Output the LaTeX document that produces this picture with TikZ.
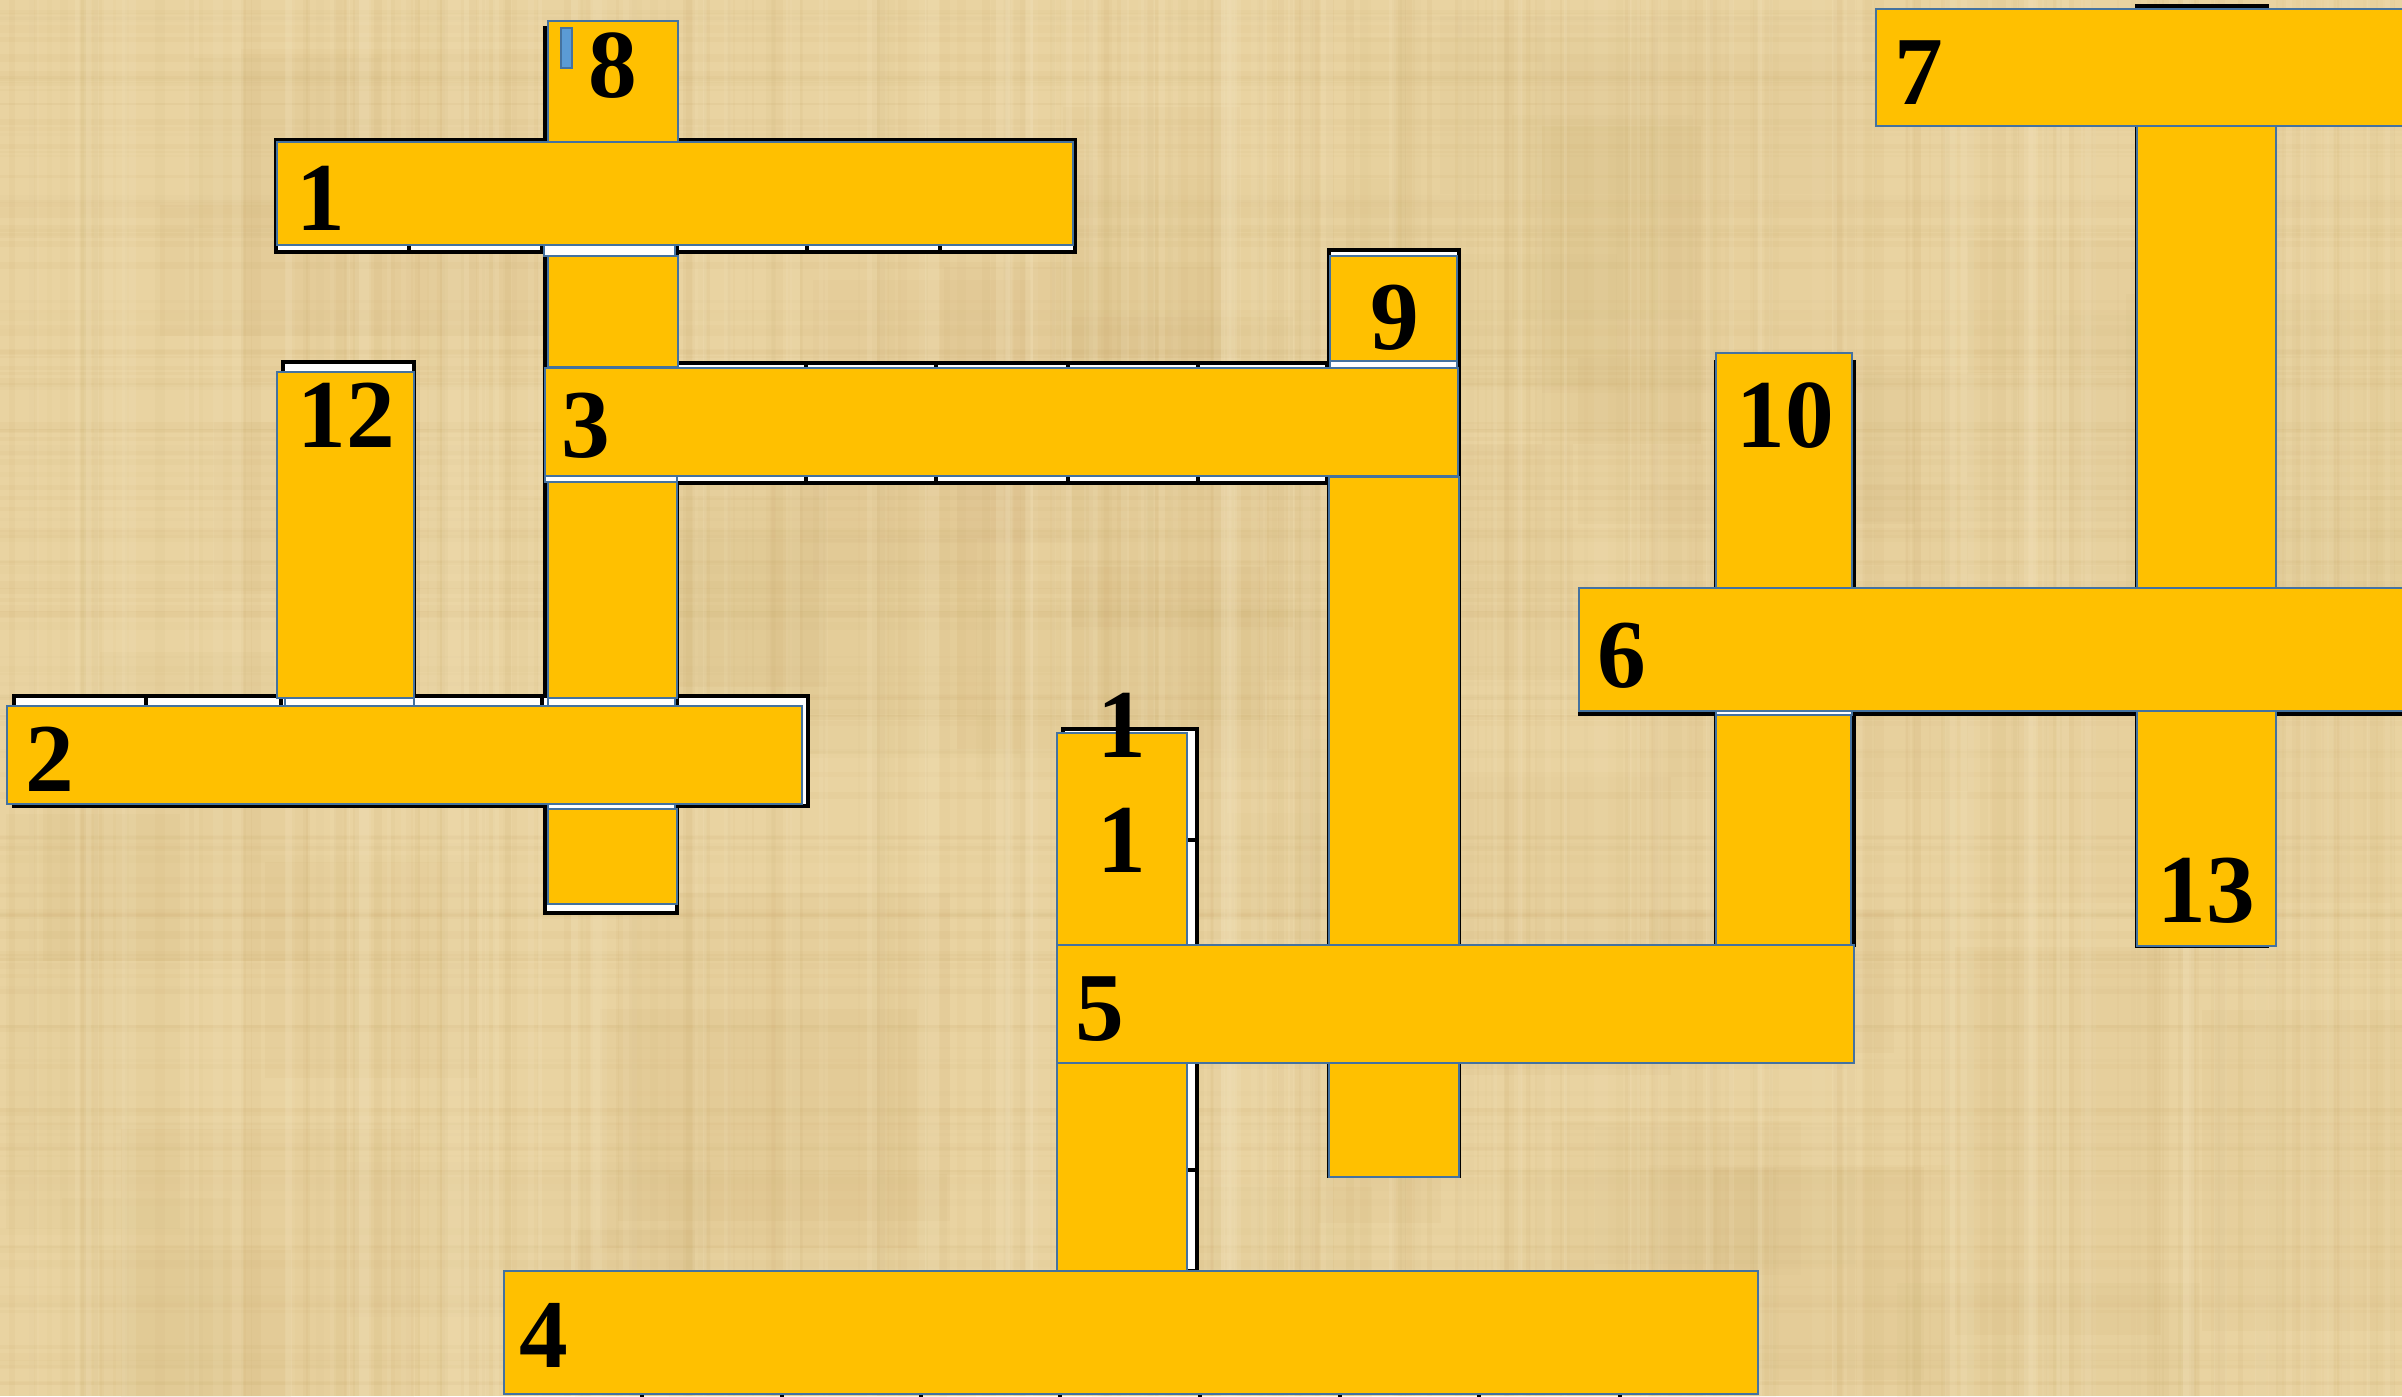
\documentclass[tikz,border=0pt]{standalone}
\usepackage{fontspec}
\setmainfont{Liberation Serif}
\definecolor{papyrus}{HTML}{E9D3A1}
\definecolor{papdark}{HTML}{C4A463}
\definecolor{paplight}{HTML}{F5E7C3}
\definecolor{barfill}{HTML}{FFC000}
\definecolor{barline}{HTML}{4472A0}
\definecolor{cursorblue}{HTML}{5B9BD5}
\tikzset{
  bar/.style={fill=barfill, draw=barline, line width=0.6pt},
  gridbox/.style={fill=white, draw=black, line width=0.9pt},
  gridline/.style={draw=black, line width=0.9pt},
  gapcell/.style={fill=white, draw=barline, line width=0.6pt},
  num/.style={font=\fontsize{27.7}{30}\selectfont\bfseries, inner sep=0pt, anchor=base, text=black},
}
\begin{document}
\begin{tikzpicture}[x=0.01cm,y=-0.01cm]
\useasboundingbox (0,0) rectangle (2402,1396);
\clip (0,0) rectangle (2402,1396);
% papyrus background
\fill[papyrus] (0,0) rectangle (2402,1396);
\pgfmathsetseed{7}
\foreach \i in {1,...,60}{
  \pgfmathsetmacro\xx{random(0,2300)}
  \pgfmathsetmacro\yy{random(0,1300)}
  \pgfmathsetmacro\ww{random(120,420)}
  \pgfmathsetmacro\hh{random(120,420)}
  \pgfmathsetmacro\op{random(3,8)/100}
  \fill[papdark, opacity=\op] (\xx,\yy) rectangle ++(\ww,\hh);
}
\foreach \i in {1,...,220}{
  \pgfmathsetmacro\xx{random(0,2402)}
  \pgfmathsetmacro\ww{random(2,10)}
  \pgfmathsetmacro\op{random(3,9)/100}
  \fill[papdark, opacity=\op] (\xx,0) rectangle ++(\ww,1396);
}
\foreach \i in {1,...,140}{
  \pgfmathsetmacro\yy{random(0,1396)}
  \pgfmathsetmacro\hh{random(2,8)}
  \pgfmathsetmacro\op{random(3,8)/100}
  \fill[papdark, opacity=\op] (0,\yy) rectangle ++(2402,\hh);
}
\foreach \i in {1,...,120}{
  \pgfmathsetmacro\xx{random(0,2402)}
  \pgfmathsetmacro\ww{random(3,14)}
  \pgfmathsetmacro\op{random(8,20)/100}
  \fill[paplight, opacity=\op] (\xx,0) rectangle ++(\ww,1396);
}
% crossword table cells (behind)
\draw[gridbox] (276,140) rectangle (1075,252);
\foreach \x in {409,542,675,807,940} \draw[gridline] (\x,140) -- (\x,252);
\draw[gridbox] (545,28) rectangle (677,913);
\draw[gridbox] (283,362) rectangle (414,707);
\draw[gridbox] (545,363) rectangle (1459,483);
\foreach \x in {676,806,936,1068,1198,1327} \draw[gridline] (\x,363) -- (\x,483);
\draw[gridbox] (1329,250) rectangle (1459,1176);
\draw[gridbox] (14,696) rectangle (808,806);
\foreach \x in {146,281,413,542,677} \draw[gridline] (\x,696) -- (\x,806);
\draw[gridbox] (1063,729) rectangle (1197,1271);
\draw[gridline] (1187,840) -- (1197,840);
\draw[gridline] (1187,1170) -- (1197,1170);
\draw[gridbox] (1716,362) rectangle (1854,945);
\draw[gridbox] (1580,590) rectangle (2410,714);
\foreach \x in {1854,1993,2131} \draw[gridline] (\x,590) -- (\x,714);
\draw[gridbox] (2137,6) rectangle (2267,946);
\foreach \x in {642,782,921,1060,1200,1340,1479,1620} \draw[gridline] (\x,1394) -- (\x,1400);
% white gap cells with blue edges
\draw[gapcell] (544,245) rectangle (675,256);
\draw[gapcell] (545,476) rectangle (677,482);
\draw[gapcell] (1330,361) rectangle (1457,368);
\draw[gapcell] (285,698) rectangle (414,707);
\draw[gapcell] (548,698) rectangle (675,707);
\draw[gapcell] (548,804) rectangle (675,809);
\draw[gapcell] (1716,711) rectangle (1852,715);
% vertical bars
\draw[bar] (548,21) rectangle (678,142);
\draw[bar] (548,256) rectangle (678,367);
\draw[bar] (548,482) rectangle (677,698);
\draw[bar] (548,809) rectangle (677,904);
\draw[bar] (277,372) rectangle (414,698);
\draw[bar] (1330,256) rectangle (1457,361);
\draw[bar] (1329,477) rectangle (1459,1177);
\draw[bar] (1716,353) rectangle (1852,588);
\draw[bar] (1716,715) rectangle (1851,945);
\draw[bar] (2137,126) rectangle (2276,946);
\draw[bar] (1057,733) rectangle (1187,1271);
% horizontal bars
\draw[bar] (277,142) rectangle (1073,245);
\draw[bar] (545,368) rectangle (1458,476);
\draw[bar] (7,706) rectangle (802,804);
\draw[bar] (1579,588) rectangle (2420,711);
\draw[bar] (1876,9) rectangle (2420,126);
\draw[bar] (1057,945) rectangle (1854,1063);
\draw[bar] (504,1271) rectangle (1758,1394);
% small blue marker
\draw[fill=cursorblue, draw=barline, line width=0.6pt] (561,28) rectangle (572,68);
% numbers
\node[num] (n8) at (613,97) {8};
\node[num] (n1) at (321,230) {1};
\node[num] (n12) at (346,447) {12};
\node[num] (n3) at (586,457) {3};
\node[num] (n9) at (1395,349) {9};
\node[num] (n10) at (1785,447) {10};
\node[num] (n6) at (1622,687) {6};
\node[num] (n7) at (1919,104) {7};
\node[num] (n2) at (50,791) {2};
\node[num] (n11a) at (1122,757) {1};
\node[num] (n11b) at (1122,872) {1};
\node[num] (n5) at (1100,1040) {5};
\node[num] (n13) at (2206,922) {13};
\node[num] (n4) at (544,1367) {4};
\end{tikzpicture}
\end{document}
